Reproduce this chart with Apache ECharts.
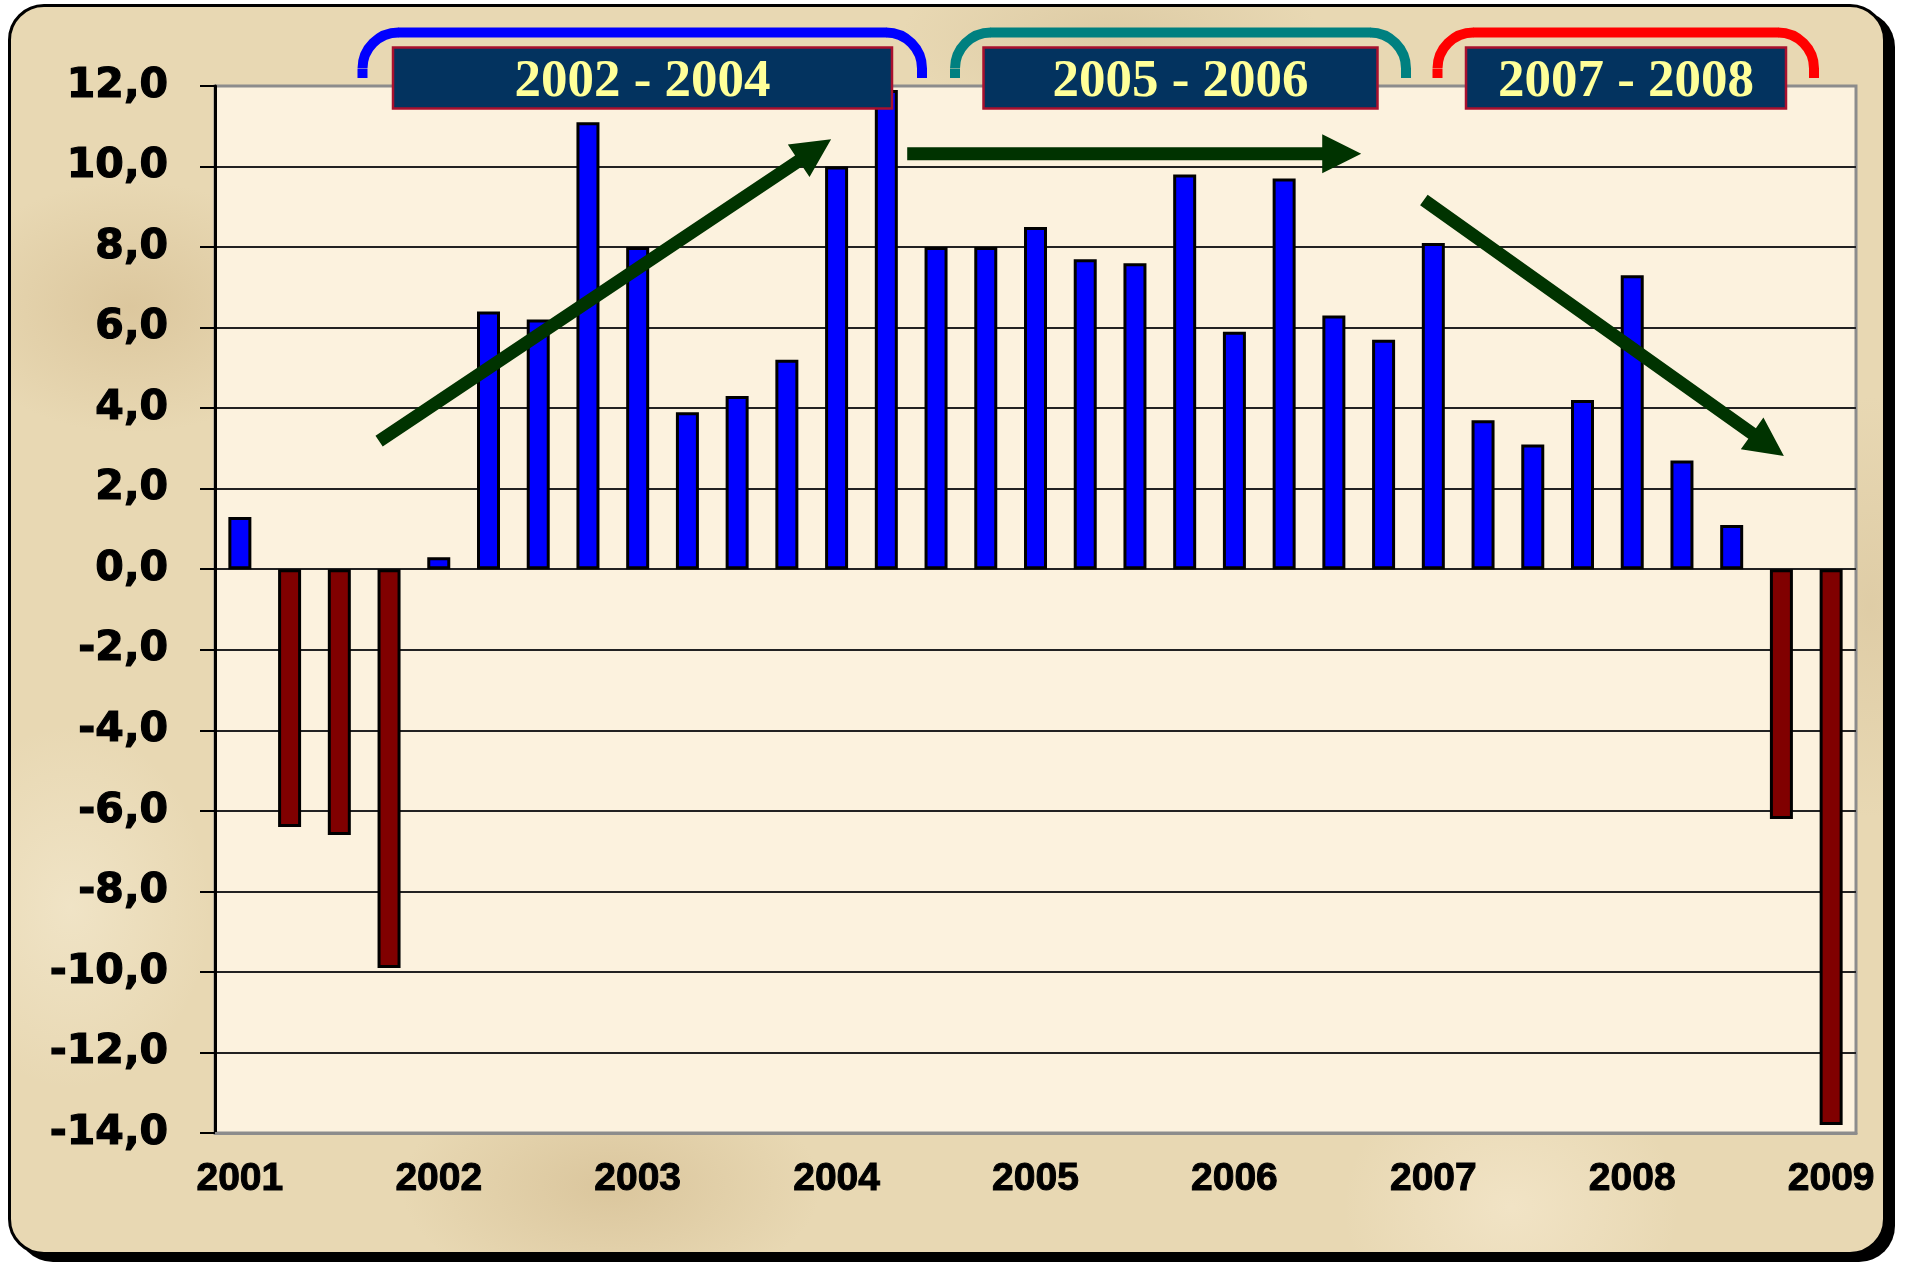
<!DOCTYPE html>
<html>
<head>
<meta charset="utf-8">
<script src="https://cdn.jsdelivr.net/npm/echarts@6/dist/echarts.min.js"></script>
<style>
  html, body { margin: 0; padding: 0; background: #ffffff; }
  #frame {
    position: absolute; left: 8px; top: 4px; width: 1878px; height: 1251px;
    box-sizing: border-box; border: 3px solid #000; border-radius: 36px;
    box-shadow: 9px 7px 0 #000;
    background:
      radial-gradient(ellipse 260px 180px at 120px 300px, rgba(210,185,140,0.55), rgba(210,185,140,0) 70%),
      radial-gradient(ellipse 300px 160px at 600px 1180px, rgba(205,180,135,0.5), rgba(205,180,135,0) 70%),
      radial-gradient(ellipse 240px 200px at 1500px 1200px, rgba(245,232,205,0.7), rgba(245,232,205,0) 70%),
      radial-gradient(ellipse 200px 260px at 60px 900px, rgba(245,235,210,0.6), rgba(245,235,210,0) 70%),
      radial-gradient(ellipse 300px 120px at 1100px 30px, rgba(210,190,150,0.5), rgba(210,190,150,0) 70%),
      radial-gradient(ellipse 160px 300px at 1860px 600px, rgba(215,195,155,0.55), rgba(215,195,155,0) 70%),
      #e8d8b3;
  }
  #main { position: absolute; left: 0; top: 0; width: 1905px; height: 1264px; }
</style>
</head>
<body>
<div id="frame"></div>
<div id="main"></div>
<script>
// quarterly values, 2001 I - 2009 I
var quarters = [
  '2001 I', '2001 II', '2001 III', '2001 IV',
  '2002 I', '2002 II', '2002 III', '2002 IV',
  '2003 I', '2003 II', '2003 III', '2003 IV',
  '2004 I', '2004 II', '2004 III', '2004 IV',
  '2005 I', '2005 II', '2005 III', '2005 IV',
  '2006 I', '2006 II', '2006 III', '2006 IV',
  '2007 I', '2007 II', '2007 III', '2007 IV',
  '2008 I', '2008 II', '2008 III', '2008 IV',
  '2009 I'
];
var growth = [
  1.3, -6.4, -6.6, -9.9,
  0.3, 6.4, 6.2, 11.1,
  8.0, 3.9, 4.3, 5.2,
  10.0, 11.9, 8.0, 8.0,
  8.5, 7.7, 7.6, 9.8,
  5.9, 9.7, 6.3, 5.7,
  8.1, 3.7, 3.1, 4.2,
  7.3, 2.7, 1.1, -6.2,
  -13.8
];
var yMin = -14, yMax = 12, yStep = 2;

// period labels above the chart
var periods = ['2002 - 2004', '2005 - 2006', '2007 - 2008'];

// trend arrows in data space: [x from, y from, x to, y to] (x = quarter index)
var trendArrows = [
  [2.80, 3.18, 11.89, 10.68],
  [13.42, 10.32, 22.55, 10.32],
  [23.81, 9.17, 31.05, 2.81]
];

// bracket / box layout (pixels)
var bracketX = [[362.5, 922], [955, 1406], [1437.5, 1814]];
var bracketColors = ['#0000ff', '#008080', '#ff0000'];
var boxX = [[393, 892], [983.5, 1377.5], [1466, 1786]];

function renderArrow(params, api) {
  var a = api.coord([api.value(0), api.value(1)]);
  var b = api.coord([api.value(2), api.value(3)]);
  var dx = b[0] - a[0], dy = b[1] - a[1];
  var len = Math.sqrt(dx * dx + dy * dy);
  var ux = dx / len, uy = dy / len, nx = -uy, ny = ux;
  var sh = 6.5, hw = 19.5, hl = 39;
  var bx = b[0] - ux * hl, by = b[1] - uy * hl;
  return {
    type: 'polygon',
    shape: {
      points: [
        [a[0] + nx * sh, a[1] + ny * sh],
        [bx + nx * sh, by + ny * sh],
        [bx + nx * hw, by + ny * hw],
        [b[0], b[1]],
        [bx - nx * hw, by - ny * hw],
        [bx - nx * sh, by - ny * sh],
        [a[0] - nx * sh, a[1] - ny * sh]
      ]
    },
    style: { fill: '#003300' }
  };
}

function bracketStyle(c) {
  return { fill: 'none', stroke: c, lineWidth: 10 };
}

var graphics = [];
for (var i = 0; i < periods.length; i++) {
  var bl = bracketX[i][0], br = bracketX[i][1], bTop = 32.5, bBot = 78, rad = 36;
  var c = bracketColors[i];
  graphics.push({ type: 'line', z: 50, shape: { x1: bl, y1: bBot, x2: bl, y2: bTop + rad + 0.5 }, style: bracketStyle(c) });
  graphics.push({ type: 'arc', z: 50, shape: { cx: bl + rad, cy: bTop + rad, r: rad, startAngle: Math.PI, endAngle: Math.PI * 1.5, clockwise: true }, style: bracketStyle(c) });
  graphics.push({ type: 'line', z: 50, shape: { x1: bl + rad - 0.5, y1: bTop, x2: br - rad + 0.5, y2: bTop }, style: bracketStyle(c) });
  graphics.push({ type: 'arc', z: 50, shape: { cx: br - rad, cy: bTop + rad, r: rad, startAngle: Math.PI * 1.5, endAngle: Math.PI * 2, clockwise: true }, style: bracketStyle(c) });
  graphics.push({ type: 'line', z: 50, shape: { x1: br, y1: bTop + rad - 0.5, x2: br, y2: bBot }, style: bracketStyle(c) });
  graphics.push({
    type: 'rect', z: 51,
    shape: { x: boxX[i][0], y: 47.5, width: boxX[i][1] - boxX[i][0], height: 61 },
    style: { fill: '#03335f', stroke: '#a8102e', lineWidth: 2.5 }
  });
  graphics.push({
    type: 'text', z: 52,
    x: (boxX[i][0] + boxX[i][1]) / 2, y: 82,
    style: {
      text: periods[i], align: 'center', verticalAlign: 'middle',
      font: 'bold 53px "Liberation Serif"', fill: '#ffff99'
    }
  });
}

var option = {
  animation: false,
  backgroundColor: 'transparent',
  grid: {
    left: 215, top: 86, right: 49, bottom: 131,
    show: true, backgroundColor: '#fcf2de',
    borderColor: '#8c8c8c', borderWidth: 3,
    containLabel: false
  },
  xAxis: [{
    type: 'category',
    data: quarters,
    axisLine: { onZero: false, lineStyle: { color: '#8c8c8c', width: 3 } },
    axisTick: { show: false },
    axisLabel: {
      interval: 3, margin: 27,
      formatter: function (v) { return v.slice(0, 4); },
      color: '#000', fontFamily: 'Liberation Sans', fontWeight: 'bold', fontSize: 39,
      textBorderColor: '#000', textBorderWidth: 1
    },
    splitLine: { show: false }
  }, {
    type: 'value', min: -0.5, max: 32.5, show: false
  }],
  yAxis: {
    type: 'value', min: yMin, max: yMax, interval: yStep,
    axisLine: { show: true, onZero: false, lineStyle: { color: '#000', width: 3 } },
    axisTick: { show: true, length: 15, lineStyle: { color: '#000', width: 2 } },
    axisLabel: {
      margin: 47, color: '#000', fontFamily: 'DejaVu Sans', fontWeight: 'bold', fontSize: 41,
      textBorderColor: '#000', textBorderWidth: 1.2,
      formatter: function (v) { return v.toFixed(1).replace('.', ','); }
    },
    splitLine: { show: true, showMaxLine: false, showMinLine: false, lineStyle: { color: '#222', width: 2 } }
  },
  series: [{
    type: 'bar',
    data: growth,
    barWidth: 23,
    itemStyle: {
      color: function (p) { return p.value >= 0 ? '#0000ff' : '#800000'; },
      borderColor: '#000', borderWidth: 3
    },
    z: 3
  }, {
    type: 'custom',
    xAxisIndex: 1,
    data: trendArrows,
    encode: { x: [0, 2], y: [1, 3] },
    renderItem: renderArrow,
    clip: false,
    silent: true,
    z: 10
  }],
  graphic: graphics
};

var myChart = echarts.init(document.getElementById('main'));
myChart.setOption(option);
</script>
</body>
</html>
